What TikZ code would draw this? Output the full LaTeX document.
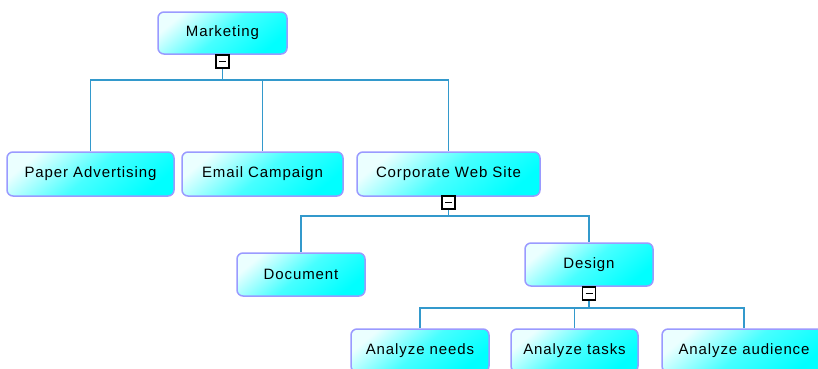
\documentclass[tikz,border=0pt]{standalone}
\usepackage{fontspec}
\setmainfont{Liberation Sans}[LetterSpace=6]
\definecolor{boxline}{HTML}{9A9AFF}
\definecolor{conn}{HTML}{3399CC}
\begin{document}
\begin{tikzpicture}[x=1pt,y=-1pt,
  box/.style={draw=boxline, line width=1.5pt, rounded corners=6pt,
    top color=cyan!8, bottom color=cyan, middle color=cyan!72, shading angle=40,
    inner sep=0pt, font=\fontsize{15}{17}\selectfont, text=black},
  toggle/.style={draw=black, fill=white, line width=1.2pt, minimum size=13pt, inner sep=0pt,
    path picture={\draw[black, line width=1.2pt] ([xshift=3pt]path picture bounding box.west) -- ([xshift=-3pt]path picture bounding box.east);}},
  conn/.style={draw=conn, line width=1.6pt}
]
\useasboundingbox (0,0) rectangle (818,368);
\clip (0,0) rectangle (818,368);

\node[box, minimum width=129pt, minimum height=42pt] (mk) at (222.5,33) {Marketing};
\node[box, minimum width=167pt, minimum height=44pt] (pa) at (90.5,174) {Paper Advertising};
\node[box, minimum width=161pt, minimum height=44pt] (ec) at (262.5,174) {Email Campaign};
\node[box, minimum width=183pt, minimum height=44pt] (cw) at (448.5,174) {Corporate Web Site};
\node[box, minimum width=128pt, minimum height=43pt] (doc) at (301,274.5) {Document};
\node[box, minimum width=128pt, minimum height=43pt] (des) at (589,264.5) {Design};
\node[box, minimum width=138pt, minimum height=43pt] (an) at (420,350.5) {Analyze needs};
\node[box, minimum width=127pt, minimum height=43pt] (at) at (574.5,350.5) {Analyze tasks};
\node[box, minimum width=164pt, minimum height=43pt] (aa) at (744,350.5) {Analyze audience};

\node[toggle] (t1) at (222.5,61.5) {};
\node[toggle] (t2) at (448.5,202.5) {};
\node[toggle] (t3) at (589,293.5) {};

\coordinate (b1) at (222.5,80);
\coordinate (b2) at (448.5,216);
\coordinate (b3) at (589,308);

\draw[conn] (t1.south) -- (b1);
\draw[conn] (b1) -| (pa.north);
\draw[conn] (b1) -| (ec.north);
\draw[conn] (b1) -| (cw.north);

\draw[conn] (t2.south) -- (b2);
\draw[conn] (b2) -| (doc.north);
\draw[conn] (b2) -| (des.north);

\draw[conn] (t3.south) -- (b3);
\draw[conn] (b3) -| (an.north);
\draw[conn] (b3) -| (at.north);
\draw[conn] (b3) -| (aa.north);
\end{tikzpicture}
\end{document}
